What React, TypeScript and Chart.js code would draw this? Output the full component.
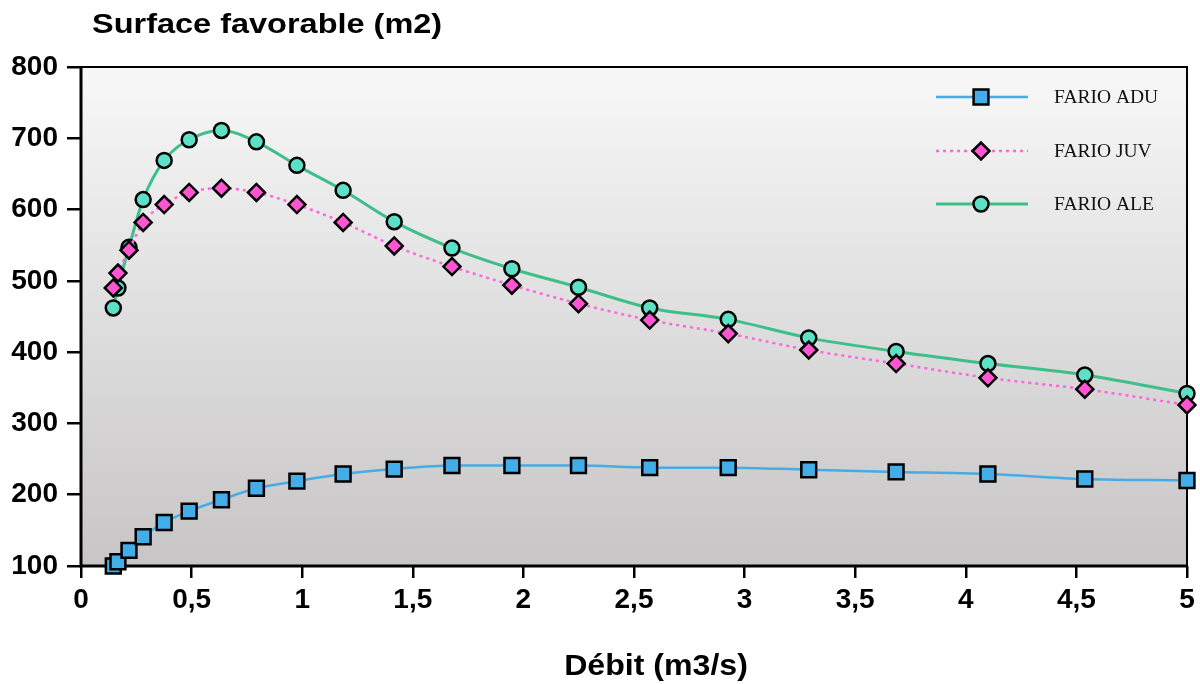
import React, { useEffect, useRef } from 'react';
import { Chart, registerables } from 'chart.js';

Chart.register(...registerables);

// Débit (m3/s)
const debit = [0.146, 0.167, 0.217, 0.281, 0.376, 0.489, 0.635, 0.793, 0.976, 1.185, 1.416, 1.677, 1.948, 2.249, 2.571, 2.926, 3.29, 3.685, 4.1, 4.538, 5.0];
// Surface favorable (m2)
const farioAdu = [100, 106, 122, 141, 161, 177, 193, 209, 219, 229, 236, 241, 241, 241, 238, 238, 235, 232, 229, 222, 220];
const farioJuv = [490, 511, 543, 582, 607, 624, 630, 624, 607, 582, 549, 520, 494, 468, 445, 426, 403, 384, 364, 348, 326];
const farioAle = [462, 490, 547, 614, 669, 698, 711, 695, 662, 627, 583, 546, 517, 491, 462, 446, 420, 401, 384, 368, 342];
const seriesNames = ['FARIO ADU', 'FARIO JUV', 'FARIO ALE'];
const yMin = 100;
const yMax = 800;
const yStep = 100;
const xMin = 0;
const xMax = 5;
const xStep = 0.5;
const chartTitle = 'Surface favorable (m2)';
const xTitle = 'Débit (m3/s)';

const toPts = (ys: number[]) => debit.map((x, i) => ({ x, y: ys[i] }));

const bgPlugin = {
  id: 'bgPlugin',
  beforeDraw(chart: any) {
    const { ctx, chartArea: a } = chart;
    ctx.save();
    ctx.fillStyle = '#ffffff';
    ctx.fillRect(0, 0, chart.width, chart.height);
    const g = ctx.createLinearGradient(0, a.top, 0, a.bottom);
    g.addColorStop(0, '#f8f8f8');
    g.addColorStop(1, '#c7c5c5');
    ctx.fillStyle = g;
    ctx.fillRect(a.left, a.top, a.right - a.left, a.bottom - a.top);
    ctx.restore();
  },
  beforeDatasetsDraw(chart: any) {
    const { ctx, chartArea: a } = chart;
    ctx.save();
    ctx.strokeStyle = '#000';
    ctx.lineWidth = 2;
    ctx.beginPath();
    ctx.moveTo(a.left, a.top);
    ctx.lineTo(a.right, a.top);
    ctx.lineTo(a.right, a.bottom);
    ctx.stroke();
    ctx.lineWidth = 3;
    ctx.beginPath();
    ctx.moveTo(a.left, a.top - 1);
    ctx.lineTo(a.left, a.bottom);
    ctx.lineTo(a.right + 1, a.bottom);
    ctx.stroke();
    // x axis title
    const xs = chart.scales.x;
    ctx.fillStyle = '#000';
    ctx.font = 'bold 30px "Liberation Sans", Arial, sans-serif';
    ctx.textAlign = 'center';
    ctx.textBaseline = 'alphabetic';
    ctx.translate((xs.left + xs.right) / 2 + 22, xs.bottom - 9);
    ctx.scale(1.07, 1);
    ctx.fillText(xTitle, 0, 0);
    ctx.restore();
  },
};

function drawMarker(ctx: CanvasRenderingContext2D, style: string, x: number, y: number, r: number) {
  ctx.beginPath();
  if (style === 'rect') {
    const s = r * Math.SQRT1_2;
    ctx.rect(x - s, y - s, 2 * s, 2 * s);
  } else if (style === 'rectRot') {
    ctx.moveTo(x - r, y);
    ctx.lineTo(x, y - r);
    ctx.lineTo(x + r, y);
    ctx.lineTo(x, y + r);
    ctx.closePath();
  } else {
    ctx.arc(x, y, r, 0, Math.PI * 2);
  }
  ctx.fill();
  ctx.stroke();
}

const legendPlugin = {
  id: 'customLegend',
  afterDraw(chart: any) {
    const { ctx } = chart;
    const rows = [97, 151, 204];
    ctx.save();
    chart.data.datasets.forEach((ds: any, i: number) => {
      const y = rows[i];
      ctx.strokeStyle = ds.borderColor;
      ctx.lineWidth = ds.borderWidth;
      ctx.setLineDash(ds.borderDash || []);
      ctx.beginPath();
      ctx.moveTo(936, y);
      ctx.lineTo(1028, y);
      ctx.stroke();
      ctx.setLineDash([]);
      ctx.fillStyle = ds.pointBackgroundColor;
      ctx.strokeStyle = ds.pointBorderColor;
      ctx.lineWidth = ds.pointBorderWidth;
      drawMarker(ctx, ds.pointStyle, 981, y, ds.pointRadius);
      ctx.fillStyle = '#111';
      ctx.font = '19.5px "Liberation Serif", "Times New Roman", serif';
      ctx.textBaseline = 'middle';
      ctx.textAlign = 'left';
      ctx.fillText(ds.label, 1054, y + 1);
    });
    ctx.restore();
  },
};

export default function App() {
  const ref = useRef<HTMLCanvasElement | null>(null);

  useEffect(() => {
    if (!ref.current) return;
    const chart = new Chart(ref.current, {
      type: 'line',
      data: {
        datasets: [
          {
            label: seriesNames[0],
            data: toPts(farioAdu),
            borderColor: '#45ace6',
            borderWidth: 2.5,
            pointStyle: 'rect',
            pointRadius: 10.5,
            pointBackgroundColor: '#42ade8',
            pointBorderColor: '#000',
            pointBorderWidth: 2.5,
            cubicInterpolationMode: 'monotone',
            clip: false,
          } as any,
          {
            label: seriesNames[1],
            data: toPts(farioJuv),
            borderColor: '#ff66dd',
            borderWidth: 2.5,
            borderDash: [3, 4],
            pointStyle: 'rectRot',
            pointRadius: 8.5,
            pointBackgroundColor: '#ff55d2',
            pointBorderColor: '#000',
            pointBorderWidth: 2.5,
            cubicInterpolationMode: 'monotone',
            clip: false,
          } as any,
          {
            label: seriesNames[2],
            data: toPts(farioAle),
            borderColor: '#3dbf8a',
            borderWidth: 3,
            pointStyle: 'circle',
            pointRadius: 7.5,
            pointBackgroundColor: '#5ce0c6',
            pointBorderColor: '#000',
            pointBorderWidth: 2.5,
            cubicInterpolationMode: 'monotone',
            clip: false,
          } as any,
        ],
      },
      options: {
        responsive: false,
        animation: false,
        events: [],
        layout: { padding: { top: 67, right: 7, left: 0, bottom: 0 } },
        plugins: {
          legend: { display: false },
          tooltip: { enabled: false },
          title: { display: false },
        },
        scales: {
          x: {
            type: 'linear',
            min: xMin,
            max: xMax,
            afterFit: (s: any) => { s.height = 118; s.paddingRight = 0; s.paddingLeft = 0; },
            border: { display: false },
            grid: { display: true, drawOnChartArea: false, drawTicks: true, tickLength: 12, color: '#000', lineWidth: 2.5 },
            ticks: {
              stepSize: xStep,
              color: '#000',
              padding: 5,
              maxRotation: 0,
              font: { family: '"Liberation Sans", Arial, sans-serif', size: 28, weight: 'bold' },
              callback: (v: any) => String(v).replace('.', ','),
            },
            title: { display: false },
          },
          y: {
            type: 'linear',
            min: yMin,
            max: yMax,
            afterFit: (s: any) => { s.width = 81; },
            border: { display: false },
            grid: { display: true, drawOnChartArea: false, drawTicks: true, tickLength: 14, color: '#000', lineWidth: 2.5 },
            ticks: {
              stepSize: yStep,
              color: '#000',
              padding: 9,
              font: { family: '"Liberation Sans", Arial, sans-serif', size: 28, weight: 'bold' },
            },
          },
        },
      },
      plugins: [bgPlugin, legendPlugin],
    });
    return () => chart.destroy();
  }, []);

  return (
    <div style={{ position: 'fixed', left: 0, top: 0, width: 1200, height: 684, background: '#fff' }}>
      <canvas ref={ref} width={1200} height={684} style={{ display: 'block', width: 1200, height: 684 }} />
      <div
        style={{
          position: 'absolute',
          left: 92,
          top: 10,
          fontFamily: '"Liberation Sans", Arial, sans-serif',
          fontWeight: 'bold',
          fontSize: 28,
          lineHeight: '28px',
          color: '#000',
          whiteSpace: 'nowrap',
          transform: 'scaleX(1.16)',
          transformOrigin: 'left center',
        }}
      >
        {chartTitle}
      </div>
    </div>
  );
}
